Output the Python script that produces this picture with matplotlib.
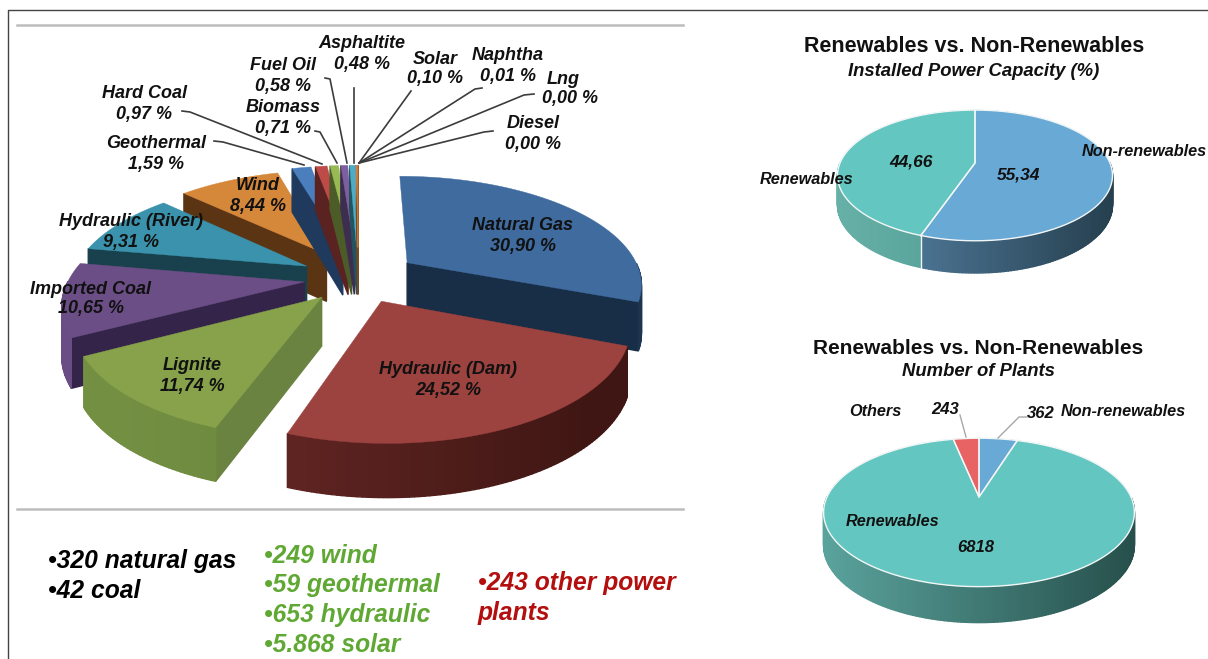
import numpy as np
import matplotlib
matplotlib.use("Agg")
import matplotlib.pyplot as plt
from matplotlib.colors import to_rgb
plt.rcParams['font.family'] = ['Liberation Sans', 'DejaVu Sans']

#data
source_names = ["Natural Gas", "Hydraulic (Dam)", "Lignite", "Imported Coal", "Hydraulic (River)",
                "Wind", "Geothermal", "Hard Coal", "Biomass", "Fuel Oil", "Asphaltite",
                "Solar", "Naphtha", "Lng", "Diesel"]
source_values = [30.90, 24.52, 11.74, 10.65, 9.31, 8.44, 1.59, 0.97, 0.71, 0.58, 0.48, 0.10, 0.01, 0.00, 0.00]

capacity_names = ["Non-renewables", "Renewables"]
capacity_values = [55.34, 44.66]
plants_names = ["Non-renewables", "Renewables", "Others"]
plants_values = [362, 6818, 243]

black_notes = ["•320 natural gas", "•42 coal"]
green_notes = ["•249 wind", "•59 geothermal", "•653 hydraulic", "•5.868 solar"]
red_notes = ["•243 other power", "plants"]

#colours: top surface, wall, rim at left, rim at right
source_colors = [("#3F6B9F", "#182E46", "#1c3450", "#1c3450"),
                 ("#9C423F", "#5a2321", "#702c2a", "#3f1613"),
                 ("#87A24A", "#6A8340", "#728f42", "#617a38"),
                 ("#6B4E86", "#35244A", "#6a4d85", "#5a4075"),
                 ("#3A92AC", "#18414D", "#1d4f5d", "#1d4f5d"),
                 ("#D5873A", "#5B3414", "#6b3e18", "#6b3e18"),
                 ("#4A7EBC", "#1F3A5C", "#1F3A5C", "#1F3A5C"),
                 ("#BE4B48", "#5A2220", "#5A2220", "#5A2220"),
                 ("#98B954", "#4B5C28", "#4B5C28", "#4B5C28"),
                 ("#7D5FA0", "#3D2E50", "#3D2E50", "#3D2E50"),
                 ("#4AACC5", "#22535F", "#22535F", "#22535F"),
                 ("#F59D56", "#7a4a20", "#7a4a20", "#7a4a20"),
                 ("#F59D56", "#7a4a20", "#7a4a20", "#7a4a20"),
                 ("#4A7EBC", "#1F3A5C", "#1F3A5C", "#1F3A5C"),
                 ("#BE4B48", "#5A2220", "#5A2220", "#5A2220")]
#how far each slice is pulled out of the big pie
source_explode = [0.26, 0.23, 0.23, 0.23, 0.25, 0.27, 0.30, 0.30, 0.30, 0.30, 0.30, 0.30, 0.30, 0.30, 0.30]

fig = plt.figure(figsize=(12.08, 6.59), dpi=100)
ax = fig.add_axes([0, 0, 1, 1])
ax.set_xlim(0, 1208)
ax.set_ylim(659, 0)
ax.axis("off")


def mix(c1, c2, t):
    a, b = np.array(to_rgb(c1)), np.array(to_rgb(c2))
    return tuple(a + (b - a) * t)


def project(X, Z, view):
    cx, cy, R, a, k, d = view
    s = 1 / (1 - k * np.asarray(Z))
    return cx + R * np.asarray(X) * s, cy + a * np.asarray(Z) * s, d * np.sqrt(s)


def put(x, y, s, **kw):
    #text sits a pixel lower than its centre in the reference
    ax.text(x, y + 1, s, **kw)


def draw_slice(start, end, view, cols, explode=0.0, edge=None, top_z=2):
    top, wall, rim_l, rim_r = cols
    mid = np.radians((start + end) / 2)
    ox, oz = explode * np.sin(mid), -explode * np.cos(mid)
    t = np.radians(np.linspace(start, end, max(int(end - start) + 2, 3)))
    X = ox + np.sin(t)
    Z = oz - np.cos(t)
    x, y, d = project(X, Z, view)
    ax0, ay0, ad = project(ox, oz, view)

    #walls, sorted back to front, back facing faces left out
    walls = []
    if explode > 0 and start >= 180:
        walls.append((Z[0] / 2 + oz / 2, [ax0, x[0], x[0], ax0], [ay0, y[0], y[0] + d[0], ay0 + ad], wall))
    if explode > 0 and end <= 180:
        walls.append((Z[-1] / 2 + oz / 2, [ax0, x[-1], x[-1], ax0], [ay0, y[-1], y[-1] + d[-1], ay0 + ad], wall))
    cx, R = view[0], view[2]
    for i in range(len(t) - 1):
        if np.cos((t[i] + t[i + 1]) / 2) > 0:
            continue
        f = np.clip(((x[i] + x[i + 1]) / 2 - cx + R) / (2 * R), 0, 1)
        walls.append(((Z[i] + Z[i + 1]) / 2, [x[i], x[i + 1], x[i + 1], x[i]],
                      [y[i], y[i + 1], y[i + 1] + d[i + 1], y[i] + d[i]], mix(rim_l, rim_r, f)))
    for _, wx, wy, c in sorted(walls, key=lambda w: w[0]):
        ax.fill(wx, wy, color=c, lw=1.0, zorder=2)

    #top surface
    ax.fill(np.r_[ax0, x], np.r_[ay0, y], color=top, lw=0.3, zorder=top_z)
    if edge:
        ax.plot(np.r_[x[-1], ax0, x[0]], np.r_[y[-1], ay0, y[0]], color=edge, lw=1.0, zorder=3)
        ax.plot(x, y, color=edge, lw=1.0, zorder=3)
        #split between two slices carries on down the rim
        if 90 < end < 270 and explode == 0:
            ax.plot([x[-1], x[-1]], [y[-1], y[-1] + d[-1]], color=edge, lw=1.0, zorder=3)


def draw_pie(values, cols, view):
    total = sum(values)
    ang = 0.0
    for v, c in zip(values, cols):
        a1 = ang + v / total * 360
        draw_slice(ang, a1, view, c, edge="#f2f6f6", top_z=2.5)
        ang = a1


#frame of the screenshot
ax.plot([8, 8, 1208], [659, 10, 10], color="#444444", lw=1.0, zorder=1)
ax.plot([17, 683], [25, 25], color="#bdbdbd", lw=1.8, zorder=1)
ax.plot([17, 683], [509, 509], color="#bdbdbd", lw=1.8, zorder=1)

#exploded pie
big_view = (358, 278, 235, 107, 0.18, 48)
total = sum(source_values)
edges = np.r_[0, np.cumsum(source_values)] / total * 360
draw_order = [5, 4, 3, 2, 6, 7, 8, 9, 10, 11, 12, 0, 1]
for i in draw_order:
    draw_slice(edges[i], edges[i + 1], big_view, source_colors[i], explode=source_explode[i])

#leader lines
leaders = [[(214, 141), (223, 142), (304, 165)],
           [(182, 111), (190, 112), (322, 164)],
           [(315, 131), (320, 132), (337, 163)],
           [(325, 78), (330, 79), (347, 163)],
           [(354, 88), (354, 163)],
           [(411, 91), (359, 163)],
           [(482, 88), (475, 89), (359, 163)],
           [(534, 94), (524, 95), (359, 163)],
           [(493, 131), (484, 132), (359, 163)]]
for pts in leaders:
    ax.plot(*zip(*pts), color="#3c3c3c", lw=1.2, zorder=3)

#labels of the exploded pie: name position, value position
label_pos = {"Natural Gas": ((523, 224), (523, 245)),
             "Hydraulic (Dam)": ((448, 369), (448, 390)),
             "Lignite": ((192, 365), (192, 385)),
             "Imported Coal": ((90, 288), (91, 308)),
             "Hydraulic (River)": ((131, 221), (131, 241)),
             "Wind": ((258, 184), (258, 205)),
             "Geothermal": ((156, 142), (156, 163)),
             "Hard Coal": ((144, 93), (144, 113)),
             "Biomass": ((283, 107), (283, 127)),
             "Fuel Oil": ((283, 65), (283, 86)),
             "Asphaltite": ((362, 43), (362, 64)),
             "Solar": ((435, 58), (435, 78)),
             "Naphtha": ((508, 55), (508, 76)),
             "Lng": ((563, 78), (570, 98)),
             "Diesel": ((533, 122), (533, 143))}
lab = dict(ha="center", va="center", fontweight="bold", fontstyle="italic", color="#111111", zorder=5)
for name, val in zip(source_names, source_values):
    p1, p2 = label_pos[name]
    put(p1[0], p1[1], name, fontsize=13, **lab)
    put(p2[0], p2[1], f"{val:.2f} %".replace(".", ","), fontsize=13, **lab)

#notes under the exploded pie
note = dict(ha="left", va="center", fontweight="bold", fontstyle="italic", fontsize=17.7)
for y, s in zip([560, 590], black_notes):
    put(48, y, s, color="black", **note)
for y, s in zip([555, 584, 614, 644], green_notes):
    put(264, y, s, color="#5FA833", **note)
for y, s in zip([582, 612], red_notes):
    put(478, y, s, color="#B30F0F", **note)

#capacity pie
draw_pie(capacity_values, [("#68A9D6", "#2b4558", "#5a88ad", "#26404f"),
                           ("#64C6C0", "#4e9a90", "#66b0a8", "#3f8a82")],
         (975, 163, 135, 63, 0.19, 29))
put(974, 46, "Renewables vs. Non-Renewables", ha="center", va="center", fontweight="bold", fontsize=15.5, color="#111111")
put(974, 70, "Installed Power Capacity (%)", ha="center", va="center", fontweight="bold", fontstyle="italic", fontsize=13.3, color="#111111")
put(911, 161, f"{capacity_values[1]:.2f}".replace(".", ","), fontsize=12.5, **lab)
put(1019, 174, f"{capacity_values[0]:.2f}".replace(".", ","), fontsize=12.5, **lab)
put(1144, 150, capacity_names[0], fontsize=11.7, **lab)
put(807, 178, capacity_names[1], fontsize=11.7, **lab)

#plants pie
draw_pie(plants_values, [("#68A9D6", "#2b4558", "#4d7ea3", "#26404f"),
                         ("#64C6C0", "#4e9a90", "#5aa29c", "#27504c"),
                         ("#E86464", "#8a3a3a", "#8a3a3a", "#8a3a3a")],
         (979, 497, 152, 71, 0.208, 32))
put(978, 347, "Renewables vs. Non-Renewables", ha="center", va="center", fontweight="bold", fontsize=15, color="#111111")
put(978, 370, "Number of Plants", ha="center", va="center", fontweight="bold", fontstyle="italic", fontsize=13.3, color="#111111")
ax.plot([960, 966], [415, 437], color="#a8a8a8", lw=1, zorder=4)
ax.plot([1027, 1019, 998], [417, 417, 438], color="#a8a8a8", lw=1, zorder=4)
put(875, 410, plants_names[2], fontsize=11.7, **lab)
put(945, 409, str(plants_values[2]), fontsize=12, **lab)
put(1041, 412, str(plants_values[0]), fontsize=12, **lab)
put(1123, 410, plants_names[0], fontsize=11.7, **lab)
put(893, 521, plants_names[1], fontsize=11.7, **lab)
put(976, 547, str(plants_values[1]), fontsize=12, **lab)

fig.savefig("out.png", dpi=100)
